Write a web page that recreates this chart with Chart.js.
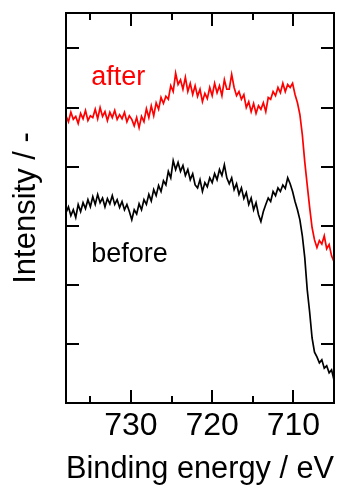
<!DOCTYPE html>
<html>
<head>
<meta charset="utf-8">
<script src="https://cdn.jsdelivr.net/npm/chart.js@4/dist/chart.umd.min.js"></script>
<style>
  html, body { margin: 0; padding: 0; background: #fff; }
  #wrap { width: 341px; height: 489px; position: relative; }
</style>
</head>
<body>
<div id="wrap"><canvas id="xpsChart"></canvas></div>
<script>
// binding energy (eV), one point every 0.3 eV
const energies = [
  738.0, 737.7, 737.4, 737.1, 736.8, 736.5, 736.2, 735.9, 735.6, 735.3,
  735.0, 734.7, 734.4, 734.1, 733.8, 733.5, 733.2, 732.9, 732.6, 732.3,
  732.0, 731.7, 731.4, 731.1, 730.8, 730.5, 730.2, 729.9, 729.6, 729.3,
  729.0, 728.7, 728.4, 728.1, 727.8, 727.5, 727.2, 726.9, 726.6, 726.3,
  726.0, 725.7, 725.4, 725.1, 724.8, 724.5, 724.2, 723.9, 723.6, 723.3,
  723.0, 722.7, 722.4, 722.1, 721.8, 721.5, 721.2, 720.9, 720.6, 720.3,
  720.0, 719.7, 719.4, 719.1, 718.8, 718.5, 718.2, 717.9, 717.6, 717.3,
  717.0, 716.7, 716.4, 716.1, 715.8, 715.5, 715.2, 714.9, 714.6, 714.3,
  714.0, 713.7, 713.4, 713.1, 712.8, 712.5, 712.2, 711.9, 711.6, 711.3,
  711.0, 710.7, 710.4, 710.1, 709.8, 709.5, 709.2, 708.9, 708.6, 708.3,
  708.0, 707.7, 707.4, 707.1, 706.8, 706.5, 706.2, 705.9, 705.6, 705.3, 705.0
];

const afterValues = [
  4.86, 4.76, 4.92, 4.80, 4.85, 4.73, 4.90, 4.81, 4.95, 4.78,
  4.86, 4.83, 4.97, 4.81, 5.00, 4.85, 4.93, 4.78, 4.92, 4.83,
  4.95, 4.80, 4.88, 4.81, 4.92, 4.76, 4.86, 4.80, 4.69, 4.83,
  4.66, 4.85, 4.76, 4.98, 4.83, 5.03, 4.86, 5.08, 4.97, 5.17,
  5.07, 5.19, 5.14, 5.37, 5.27, 5.58, 5.39, 5.47, 5.31, 5.51,
  5.27, 5.41, 5.22, 5.37, 5.19, 5.31, 5.10, 5.24, 5.15, 5.34,
  5.20, 5.41, 5.25, 5.37, 5.20, 5.47, 5.31, 5.31, 5.56, 5.34,
  5.20, 5.27, 5.14, 5.22, 5.00, 5.10, 4.93, 5.07, 4.90, 5.03,
  4.97, 5.08, 4.93, 5.17, 5.14, 5.27, 5.20, 5.34, 5.25, 5.41,
  5.27, 5.39, 5.34, 5.41, 5.22, 5.08, 4.88, 4.54, 4.08, 3.69,
  3.31, 2.97, 2.76, 2.63, 2.75, 2.69, 2.83, 2.61, 2.68, 2.49, 2.39
];

const beforeValues = [
  3.22, 3.32, 3.17, 3.27, 3.14, 3.36, 3.24, 3.39, 3.29, 3.44,
  3.32, 3.49, 3.36, 3.53, 3.39, 3.47, 3.32, 3.46, 3.37, 3.51,
  3.36, 3.44, 3.31, 3.41, 3.27, 3.36, 3.24, 3.10, 3.27, 3.20,
  3.37, 3.27, 3.44, 3.36, 3.53, 3.42, 3.61, 3.51, 3.68, 3.58,
  3.76, 3.69, 3.92, 3.81, 4.10, 3.95, 4.07, 3.92, 4.02, 3.85,
  3.95, 3.78, 3.88, 3.69, 3.64, 3.78, 3.58, 3.73, 3.66, 3.81,
  3.73, 3.88, 3.78, 3.95, 3.85, 4.03, 3.81, 3.71, 3.81, 3.61,
  3.71, 3.53, 3.64, 3.46, 3.56, 3.36, 3.47, 3.27, 3.39, 3.19,
  3.07, 3.24, 3.36, 3.47, 3.41, 3.58, 3.51, 3.64, 3.58, 3.69,
  3.63, 3.81, 3.71, 3.58, 3.41, 3.27, 3.10, 2.83, 2.46, 1.92,
  1.54, 1.10, 0.86, 0.78, 0.68, 0.73, 0.59, 0.63, 0.51, 0.56, 0.39
];

const xMajorTicks = [730, 720, 710];
const xMinorTicks = [735, 725, 715];
const yTicks = [1, 2, 3, 4, 5, 6];

const FONT = "'Liberation Sans', Arial, sans-serif";

const toPoints = (vals) => vals.map((v, i) => ({ x: energies[i], y: v }));

// frame, inward ticks and the two curve labels
const framePlugin = {
  id: "frame",
  afterDraw(chart) {
    const { ctx, chartArea: a, scales } = chart;
    const xs = scales.x;
    const ys = scales.y;
    ctx.save();
    ctx.strokeStyle = "#000";
    ctx.lineWidth = 2;
    ctx.beginPath();
    xMajorTicks.forEach((v) => {
      const px = Math.round(xs.getPixelForValue(v));
      ctx.moveTo(px, a.bottom); ctx.lineTo(px, a.bottom - 13);
      ctx.moveTo(px, a.top); ctx.lineTo(px, a.top + 13);
    });
    xMinorTicks.forEach((v) => {
      const px = Math.round(xs.getPixelForValue(v));
      ctx.moveTo(px, a.bottom); ctx.lineTo(px, a.bottom - 7);
      ctx.moveTo(px, a.top); ctx.lineTo(px, a.top + 7);
    });
    yTicks.forEach((v) => {
      const py = Math.round(ys.getPixelForValue(v));
      ctx.moveTo(a.left, py); ctx.lineTo(a.left + 13, py);
      ctx.moveTo(a.right, py); ctx.lineTo(a.right - 13, py);
    });
    ctx.stroke();
    ctx.strokeRect(a.left, a.top, a.right - a.left, a.bottom - a.top);

    ctx.font = `27px ${FONT}`;
    ctx.textAlign = "left";
    ctx.textBaseline = "alphabetic";
    ctx.fillStyle = "#ff0000";
    ctx.fillText("after", xs.getPixelForValue(734.9), ys.getPixelForValue(5.39));
    ctx.fillStyle = "#000";
    ctx.fillText("before", xs.getPixelForValue(734.9), ys.getPixelForValue(2.39));
    ctx.restore();
  }
};

new Chart(document.getElementById("xpsChart"), {
  type: "line",
  data: {
    datasets: [
      { label: "after", data: toPoints(afterValues), borderColor: "#ff0000", borderWidth: 1.7, pointRadius: 0, tension: 0 },
      { label: "before", data: toPoints(beforeValues), borderColor: "#000000", borderWidth: 1.7, pointRadius: 0, tension: 0 }
    ]
  },
  options: {
    responsive: true,
    maintainAspectRatio: false,
    animation: false,
    layout: { padding: { top: 13, right: 7, left: 0, bottom: 0 } },
    plugins: { legend: { display: false }, tooltip: { enabled: false } },
    scales: {
      x: {
        type: "linear",
        reverse: true,
        min: 705,
        max: 738,
        afterBuildTicks: (scale) => { scale.ticks = xMajorTicks.map((v) => ({ value: v })); },
        afterFit: (scale) => { scale.height = 86; },
        grid: { display: false, drawTicks: false },
        border: { display: false },
        ticks: { color: "#000", padding: 4, maxRotation: 0, font: { family: FONT, size: 32 } },
        title: { display: true, text: "Binding energy / eV", color: "#000", padding: { top: 0, bottom: 1 }, font: { family: FONT, size: 31 } }
      },
      y: {
        min: 0,
        max: 6.6,
        afterFit: (scale) => { scale.width = 66; },
        grid: { display: false, drawTicks: false },
        border: { display: false },
        ticks: { display: false },
        title: { display: true, text: "Intensity / -", color: "#000", padding: { top: 8, bottom: 0 }, font: { family: FONT, size: 31 } }
      }
    }
  },
  plugins: [framePlugin]
});
</script>
</body>
</html>
